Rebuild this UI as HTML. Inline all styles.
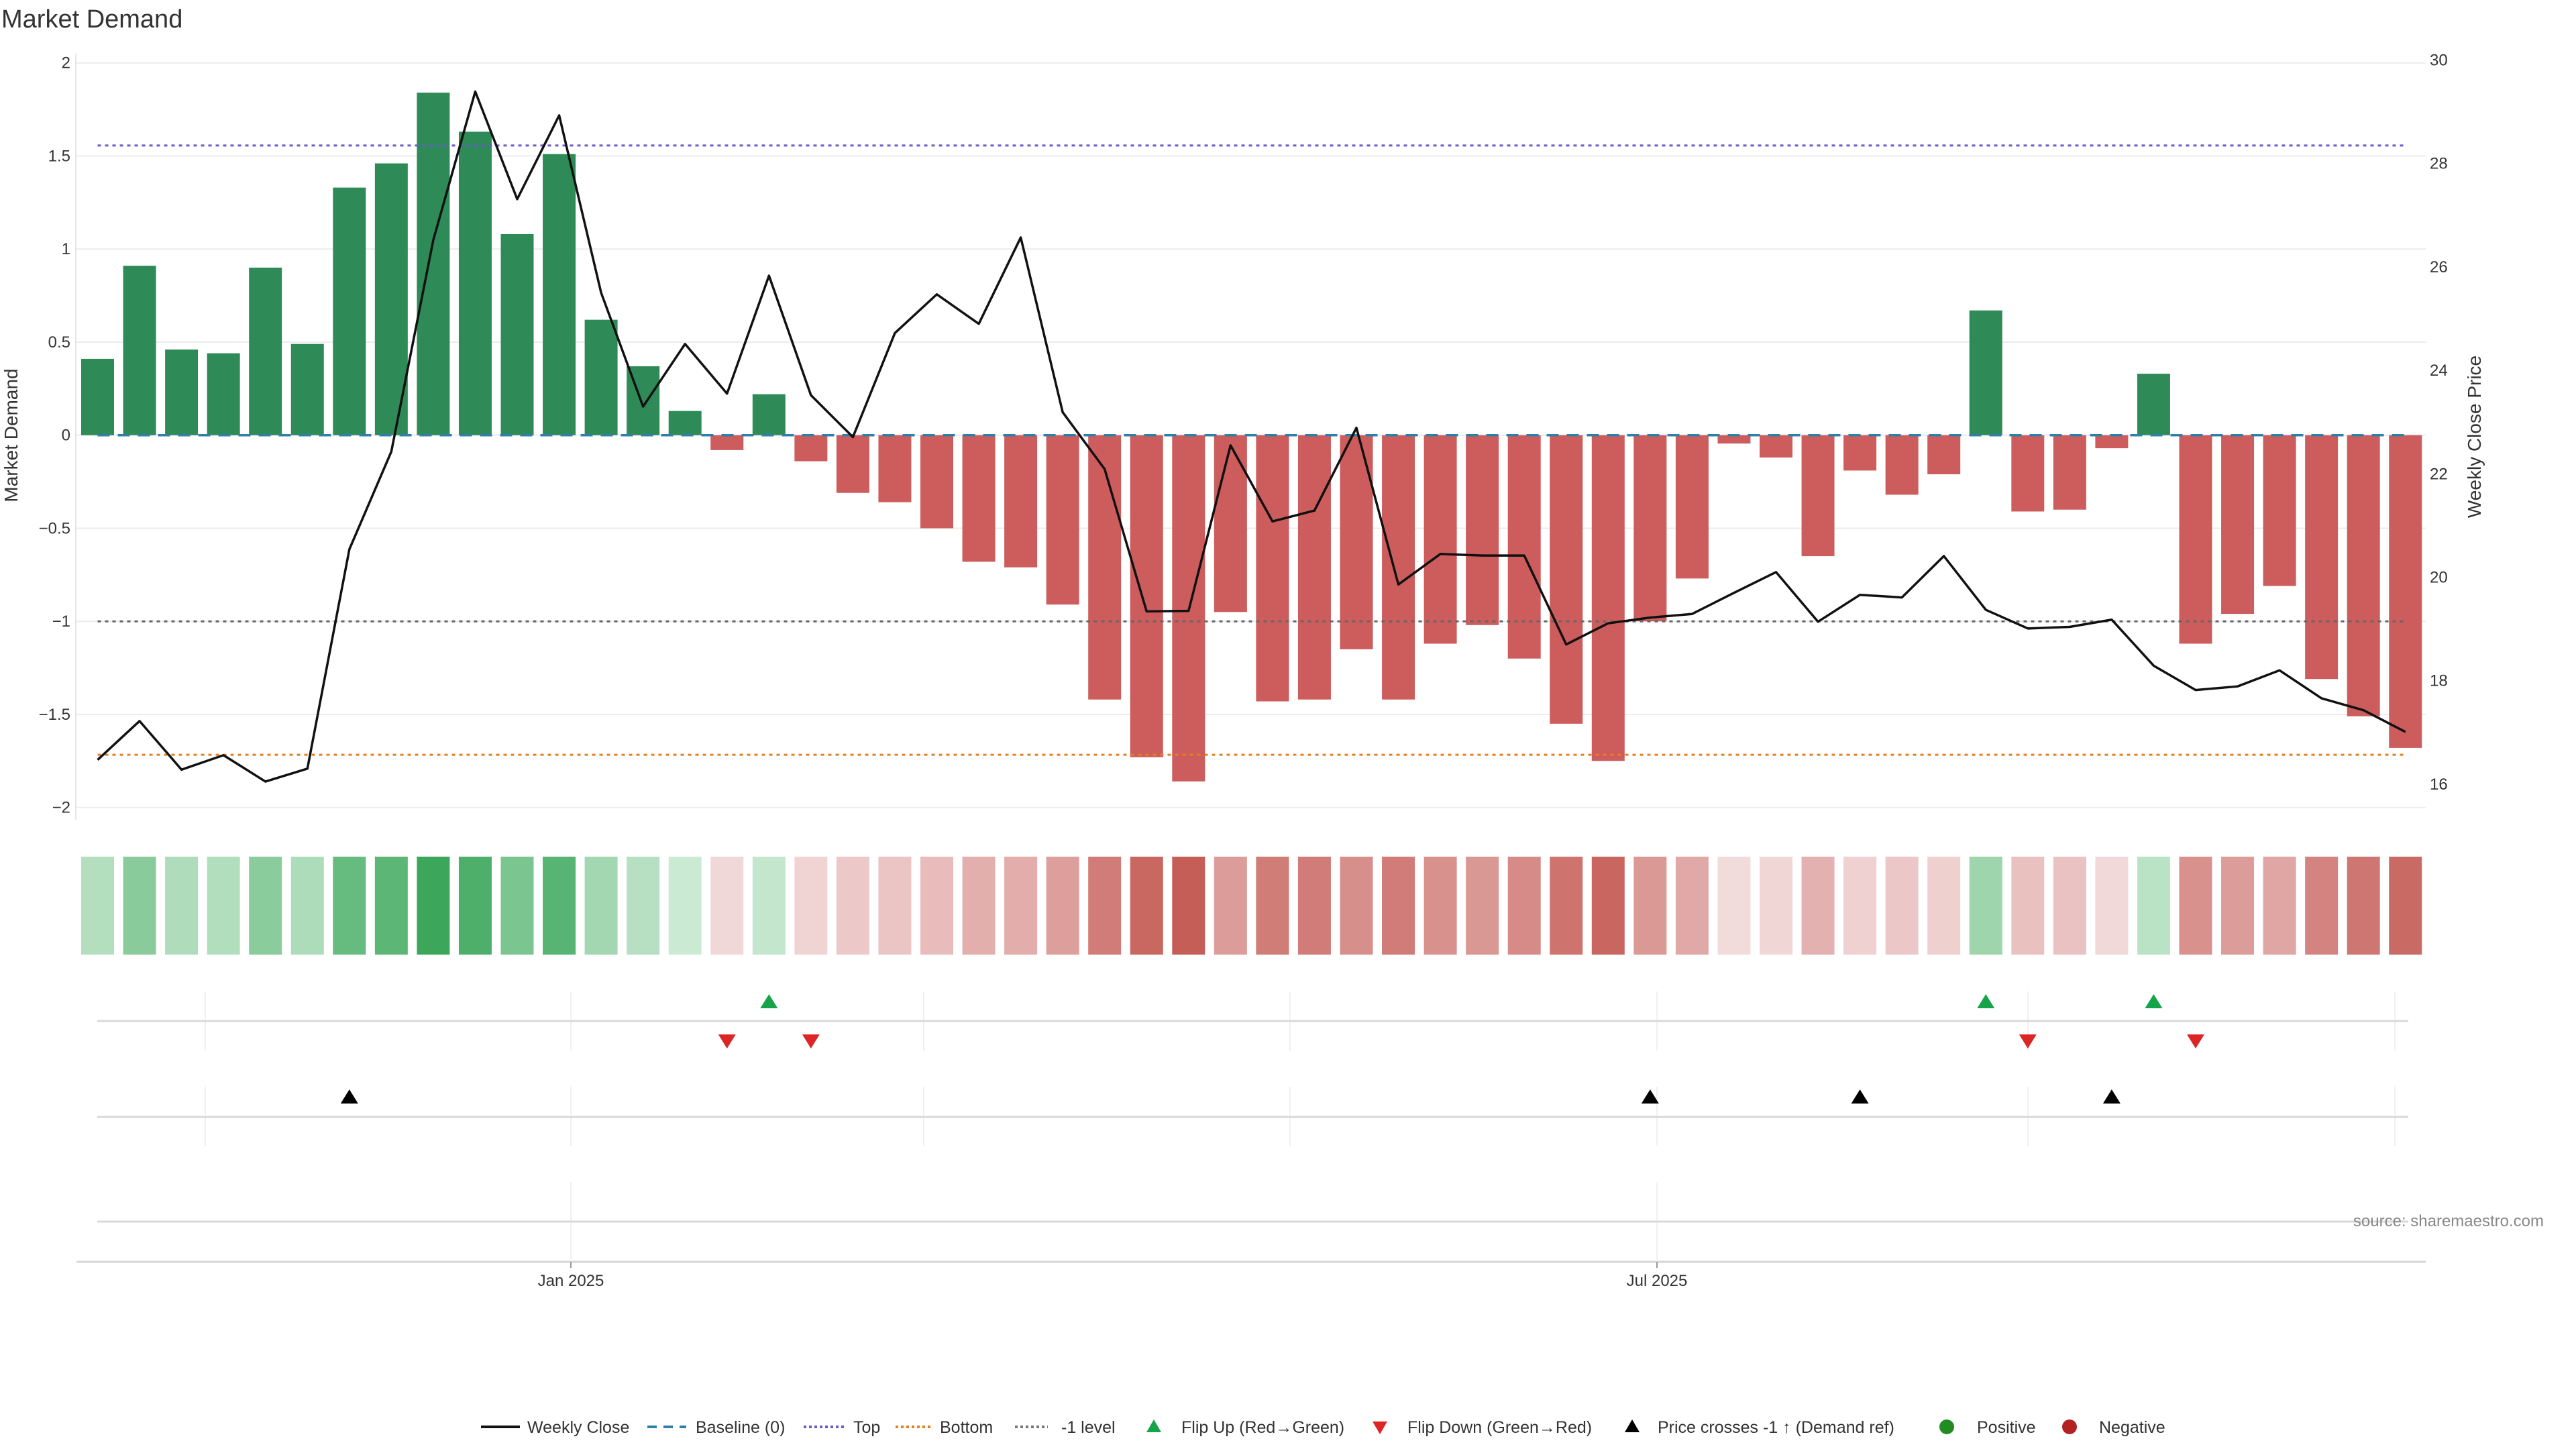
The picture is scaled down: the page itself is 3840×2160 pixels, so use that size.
<!DOCTYPE html>
<html><head><meta charset="utf-8"><title>Market Demand</title>
<style>
html,body{margin:0;padding:0;background:#fff;}
svg{display:block;font-family:"Liberation Sans","DejaVu Sans",sans-serif;}
</style></head>
<body>
<svg id="chart" xmlns="http://www.w3.org/2000/svg" width="3840" height="2160" viewBox="0 0 3840 2160">
<text x="2" y="41" font-size="38" fill="#333">Market Demand</text>
<g id="grid"></g><g id="refs"></g><g id="bars"></g><g id="line"></g><g id="heat"></g><g id="lower"></g><g id="axes"></g>
<text transform="translate(26,649) rotate(-90)" text-anchor="middle" font-size="28" fill="#333">Market Demand</text>
<text transform="translate(3698,651) rotate(-90)" text-anchor="middle" font-size="28" fill="#333">Weekly Close Price</text>
<text x="3792" y="1828" text-anchor="end" font-size="24" fill="#888">source: sharemaestro.com</text>
<g id="legend"></g>
</svg>
<script>
const demand=[0.41,0.91,0.46,0.44,0.90,0.49,1.33,1.46,1.84,1.63,1.08,1.51,0.62,0.37,0.13,-0.08,0.22,-0.14,-0.31,-0.36,-0.50,-0.68,-0.71,-0.91,-1.42,-1.73,-1.86,-0.95,-1.43,-1.42,-1.15,-1.42,-1.12,-1.02,-1.20,-1.55,-1.75,-1.00,-0.77,-0.045,-0.12,-0.65,-0.19,-0.32,-0.21,0.67,-0.41,-0.40,-0.07,0.33,-1.12,-0.96,-0.81,-1.31,-1.51,-1.68];
const price=[16.47,17.22,16.28,16.56,16.05,16.30,20.54,22.43,26.52,29.39,27.31,28.93,25.50,23.30,24.51,23.55,25.83,23.52,22.71,24.72,25.47,24.90,26.57,23.19,22.09,19.34,19.35,22.55,21.08,21.29,22.89,19.86,20.45,20.42,20.42,18.70,19.11,19.22,19.29,19.70,20.10,19.14,19.66,19.61,20.41,19.37,19.01,19.04,19.18,18.29,17.82,17.89,18.20,17.66,17.43,17.01];
const refLevels=[1.556,0,-1.717,-1];
const refNames=["top-line","baseline-zero","bottom-line","minus-one-level"];
const flipUp=[16,45,49];
const flipDown=[15,17,46,50];
const priceCross=[6,37,42,48];
const leftTicks=[2,1.5,1,0.5,0,-0.5,-1,-1.5,-2];
const leftTickLabels=["2","1.5","1","0.5","0","−0.5","−1","−1.5","−2"];
const rightTicks=[30,28,26,24,22,20,18,16];
const monthGrid=[306,851,1377,1923,2470,3023,3570];
const dateTicks=["Jan 2025","Jul 2025"];
const dateTickIdx=[1,4];

const NS="http://www.w3.org/2000/svg";
const X0=145.5,DX=62.55,BW=49,GL=113,GR=3616;
const xs=i=>X0+DX*i;
const yL=v=>648.7-277.5*v;
const yR=p=>89.5+(30-p)*77.1;
function mk(parent,tag,attrs){const e=document.createElementNS(NS,tag);for(const k in attrs)e.setAttribute(k,attrs[k]);document.getElementById(parent).appendChild(e);return e;}
function lerp(a,b,t){return a.map((c,i)=>Math.round(c+(b[i]-c)*t));}

// grid
leftTicks.forEach((v,i)=>{
  const g=mk('grid','line',{x1:GL,x2:GR,y1:yL(v),y2:yL(v),stroke:'#ececec','stroke-width':2});
  
  
  const t=mk('axes','text',{x:105,y:yL(v)+8,'text-anchor':'end','font-size':24,fill:'#333'});
  t.textContent=leftTickLabels[i];
  
  
});
rightTicks.forEach(p=>{
  const t=mk('axes','text',{x:3622,y:yR(p)+8,'font-size':24,fill:'#333'});
  t.textContent=String(p);
  
  
});
const sp=mk('axes','line',{x1:GL,x2:GL,y1:80,y2:1222,stroke:'#e6e6e6','stroke-width':2});



// bars
demand.forEach((v,i)=>{
  const y0=yL(0),y1=yL(v);
  const r=mk('bars','rect',{x:xs(i)-BW/2,y:Math.min(y0,y1),width:BW,height:Math.abs(y1-y0),fill:v>=0?'#2e8b57':'#cd5c5c'});
  
  
});
// ref lines
const refStyles=[['#6a5acd','5,6'],['#2f7fa8','18,12'],['#e67e22','5,6'],['#666','5,6']];
refLevels.forEach((v,i)=>{
  const l=mk('refs','line',{x1:xs(0),x2:xs(demand.length-1),y1:yL(v),y2:yL(v),stroke:refStyles[i][0],'stroke-width':i==1?3.5:3,'stroke-dasharray':refStyles[i][1]});
  
  
});
// move baseline on top of bars
document.getElementById('chart').insertBefore(document.getElementById('refs'),document.getElementById('line'));
// price line
const pl=mk('line','polyline',{points:price.map((p,i)=>xs(i)+','+yR(p)).join(' '),fill:'none',stroke:'#111','stroke-width':3.5,'stroke-linejoin':'round'});


// heat strip
demand.forEach((v,i)=>{
  const t=Math.min(1,Math.abs(v)/1.86);
  const c=v>=0?lerp([214,239,220],[58,166,90],t):lerp([243,222,222],[198,94,88],t);
  const r=mk('heat','rect',{x:xs(i)-BW/2,y:1277,width:BW,height:146,fill:'rgb('+c.join(',')+')'});
  
  
});
// lower panels
const rows=[[1478,1567,1522],[1620,1708,1665]];
rows.forEach(r=>{
  monthGrid.forEach(x=>{const l=mk('lower','line',{x1:x,x2:x,y1:r[0],y2:r[1],stroke:'#eef0f2','stroke-width':2});
    
    });
  const l=mk('lower','line',{x1:145,x2:3590,y1:r[2],y2:r[2],stroke:'#d8d8d8','stroke-width':3});
  
  
});
[851,2470].forEach(x=>{const l=mk('lower','line',{x1:x,x2:x,y1:1762,y2:1878,stroke:'#eef0f2','stroke-width':2});
  
  });
const r3=mk('lower','line',{x1:145,x2:3590,y1:1821,y2:1821,stroke:'#d8d8d8','stroke-width':3});


const xa=mk('lower','line',{x1:114,x2:3616,y1:1881,y2:1881,stroke:'#d6d6d6','stroke-width':3});


dateTicks.forEach((s,k)=>{
  const x=monthGrid[dateTickIdx[k]];
  const tk=mk('lower','line',{x1:x,x2:x,y1:1881,y2:1890,stroke:'#999','stroke-width':2});
  
  
  const t=mk('lower','text',{x:x,y:1917,'text-anchor':'middle','font-size':24,fill:'#333'});
  t.textContent=s;
  
  
});
function tri(x,y,up,fill,name){
  const pts=up?[[x,y-12],[x+13,y+9],[x-13,y+9]]:[[x,y+12],[x+13,y-9],[x-13,y-9]];
  const p=mk('lower','polygon',{points:pts.map(q=>q.join(',')).join(' '),fill:fill});
  
  
}
flipUp.forEach(i=>tri(xs(i),1494,true,'#16a34a','flip-up-marker'));
flipDown.forEach(i=>tri(xs(i),1551,false,'#dc2626','flip-down-marker'));
priceCross.forEach(i=>tri(xs(i),1636,true,'#000','price-cross-marker'));

// legend
const L='legend',LY=2127;
function ltext(x,s,name){const t=mk(L,'text',{x:x,y:LY+9,'font-size':25,fill:'#333'});t.textContent=s;
  
  }
function lline(x1,x2,col,dash,name){const l=mk(L,'line',{x1:x1,x2:x2,y1:LY,y2:LY,stroke:col,'stroke-width':4,'stroke-dasharray':dash});
  
  }
lline(717,775,'#111','none','legend-weekly-close-swatch');ltext(786,'Weekly Close','legend-weekly-close');
lline(965,1023,'#2f7fa8','14,10','legend-baseline-swatch');ltext(1037,'Baseline (0)','legend-baseline');
lline(1198,1259,'#6a5acd','4,4','legend-top-swatch');ltext(1272,'Top','legend-top');
lline(1335,1388,'#e67e22','4,4','legend-bottom-swatch');ltext(1401,'Bottom','legend-bottom');
lline(1513,1562,'#777','4,4','legend-minus-one-swatch');ltext(1582,'-1 level','legend-minus-one');
function ltri(x,up,fill,name){const y=LY;const pts=up?[[x,y-11],[x+11,y+8],[x-11,y+8]]:[[x,y+11],[x+11,y-8],[x-11,y-8]];
  const p=mk(L,'polygon',{points:pts.map(q=>q.join(',')).join(' '),fill:fill});
  
  }
ltri(1720,true,'#16a34a','legend-flip-up-swatch');ltext(1761,'Flip Up (Red→Green)','legend-flip-up');
ltri(2057,false,'#dc2626','legend-flip-down-swatch');ltext(2098,'Flip Down (Green→Red)','legend-flip-down');
ltri(2433,true,'#000','legend-price-cross-swatch');ltext(2471,'Price crosses -1 ↑ (Demand ref)','legend-price-cross');
const c1=mk(L,'circle',{cx:2902,cy:LY,r:11,fill:'#228b22'});


ltext(2947,'Positive','legend-positive');
const c2=mk(L,'circle',{cx:3085,cy:LY,r:11,fill:'#b22222'});


ltext(3129,'Negative','legend-negative');
</script>
</body></html>
